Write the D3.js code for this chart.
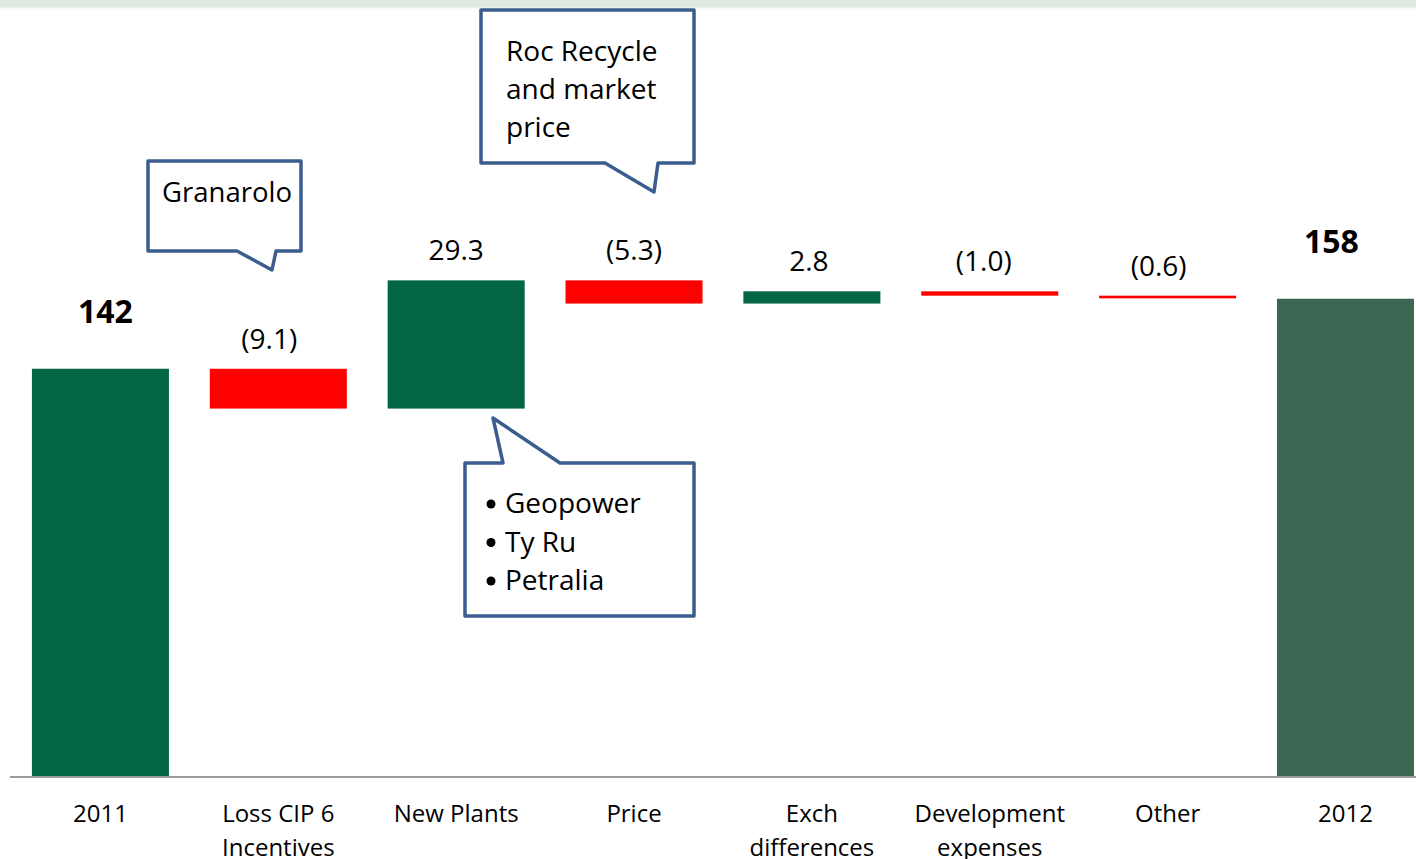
<!DOCTYPE html>
<html>
<head>
<meta charset="utf-8">
<script src="https://cdn.jsdelivr.net/npm/d3@7"></script>
<style>
  html, body { margin: 0; padding: 0; background: #fff; }
  svg { display: block; }
  text { font-family: "Open Sans", "DejaVu Sans", sans-serif; }
</style>
</head>
<body>
<svg id="chart" width="1416" height="859"></svg>
<script>
// ---- data ----
const categories = ["2011", "Loss CIP 6\nIncentives", "New Plants", "Price", "Exch\ndifferences", "Development\nexpenses", "Other", "2012"];
const values = [142, -9.1, 29.3, -5.3, 2.8, -1.0, -0.6, 158];
const kinds = ["total", "delta", "delta", "delta", "delta", "delta", "delta", "total"];
const valueLabels = ["142", "(9.1)", "29.3", "(5.3)", "2.8", "(1.0)", "(0.6)", "158"];
const axisMin = 48.7;
const axisMax = 160;

const callouts = [
  { lines: ["Granarolo"], bullets: false },
  { lines: ["Roc Recycle", "and market", "price"], bullets: false },
  { lines: ["Geopower", "Ty Ru", "Petralia"], bullets: true }
];

// ---- layout (label nudges in px, not data) ----
const labelDx = [5, -9, 0, 0, -3, -6, -9, -14];

const W = 1416, H = 859;
const svg = d3.select("#chart");

const x = d3.scaleBand()
  .domain(categories)
  .range([11.5, 1434.4])
  .paddingInner(0.2297)
  .paddingOuter(0.11485);

const y = d3.scaleLinear().domain([axisMin, axisMax]).range([777, 290]);

// build waterfall rows
let running = 0;
const rows = categories.map((c, i) => {
  let lo, hi;
  if (kinds[i] === "total") {
    lo = axisMin; hi = values[i]; running = values[i];
  } else {
    const start = running, end = running + values[i];
    lo = Math.min(start, end); hi = Math.max(start, end);
    running = end;
  }
  let color;
  if (kinds[i] === "total") color = i === 0 ? "#026544" : "#3b6651";
  else color = values[i] >= 0 ? "#026544" : "#ff0000";
  return { i, cat: c, lo, hi, color, label: valueLabels[i], kind: kinds[i] };
});

// top band
const defs = svg.append("defs");
const grad = defs.append("linearGradient").attr("id", "topfade").attr("x1", 0).attr("x2", 0).attr("y1", 0).attr("y2", 1);
grad.append("stop").attr("offset", "0%").attr("stop-color", "#dde8df");
grad.append("stop").attr("offset", "75%").attr("stop-color", "#dde8df");
grad.append("stop").attr("offset", "100%").attr("stop-color", "#ffffff");
svg.append("rect").attr("x", 0).attr("y", 0).attr("width", W).attr("height", 9).attr("fill", "url(#topfade)");

// bars
svg.append("g").selectAll("rect").data(rows).join("rect")
  .attr("x", d => x(d.cat))
  .attr("width", x.bandwidth())
  .attr("y", d => y(d.hi))
  .attr("height", d => Math.max(2, y(d.lo) - y(d.hi)))
  .attr("fill", d => d.color);

// value labels
svg.append("g").selectAll("text").data(rows).join("text")
  .attr("x", d => x(d.cat) + x.bandwidth() / 2 + labelDx[d.i])
  .attr("y", d => y(d.hi) - (d.kind === "total" ? 46 : 20))
  .attr("text-anchor", "middle")
  .attr("font-size", d => d.kind === "total" ? 32 : 28)
  .attr("font-weight", d => d.kind === "total" ? "bold" : "normal")
  .attr("fill", "#000")
  .text(d => d.label);

// axis
const axis = svg.append("g").attr("transform", `translate(0,${y(axisMin)})`)
  .call(d3.axisBottom(x).tickSize(0).tickPadding(0));
axis.select(".domain").attr("stroke", "#9a9a9a").attr("stroke-width", 2).attr("d", `M10,0H${W}`);
axis.selectAll(".tick text").each(function(d) {
  const t = d3.select(this);
  t.text(null).attr("font-size", 24).attr("fill", "#000").attr("font-family", '"Open Sans", sans-serif').attr("y", 0).attr("dy", null);
  d.split("\n").forEach((line, k) => {
    t.append("tspan").attr("x", 0).attr("y", 45 + k * 34).text(line);
  });
});

// callouts (annotation shapes)
const stroke = "#3b5e8e";
function bubble(path) {
  svg.append("path").attr("d", path).attr("fill", "#fff").attr("stroke", stroke)
    .attr("stroke-width", 3.5).attr("stroke-linejoin", "round");
}
// Granarolo
bubble("M148,161 H301 V251 H276 L272,270 L237,251 H148 Z");
// Roc Recycle
bubble("M481,10 H694 V163 H658 L654,192 L605,163 H481 Z");
// Geopower
bubble("M465,463 H503 L493,418 L560,463 H694 V616 H465 Z");

function calloutText(c, x0, y0, lh, fs) {
  const g = svg.append("g");
  c.lines.forEach((line, k) => {
    if (c.bullets) {
      g.append("circle").attr("cx", x0 - 14).attr("cy", y0 + k * lh - 9).attr("r", 4.5).attr("fill", "#000");
    }
    g.append("text").attr("x", x0).attr("y", y0 + k * lh)
      .attr("font-size", fs).attr("fill", "#000").text(line);
  });
}
calloutText(callouts[0], 162, 202, 38, 27.5);
calloutText(callouts[1], 506, 61, 38, 28);
calloutText(callouts[2], 505, 513, 38.5, 28);
</script>
</body>
</html>
